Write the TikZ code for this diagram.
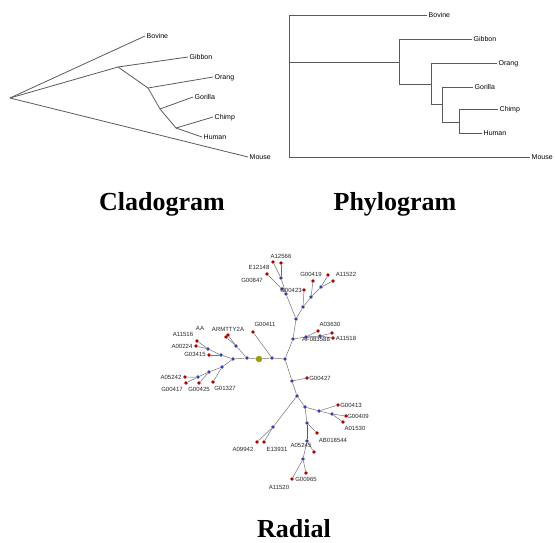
\documentclass[tikz,border=0pt]{standalone}
\usepackage{fontspec}
\setmainfont{Liberation Serif}
\newfontfamily\tagfont{Liberation Sans}
\usetikzlibrary{positioning}
\definecolor{treegray}{HTML}{5A5A5A}
\definecolor{leafred}{HTML}{B00000}
\definecolor{knotblue}{HTML}{3C3CA8}
\definecolor{hubolive}{HTML}{9C9C18}

\begin{document}
\begin{tikzpicture}[x=1pt, y=-1pt,
  branch/.style={draw=treegray, line width=0.8pt},
  twig/.style={draw=treegray!85, line width=0.5pt},
  taxon/.style={anchor=west, inner sep=1.5pt, font=\tagfont\fontsize{7}{7}\selectfont, text height=5pt, text depth=0pt},
  tag/.style={inner sep=0pt, font=\tagfont\fontsize{6}{6}\selectfont, text=black!85, text height=4.3pt, text depth=0pt},
  knot/.style={circle, fill=knotblue, inner sep=0pt, minimum size=3.6pt},
  leaf/.style={circle, fill=leafred, inner sep=0pt, minimum size=3.8pt},
  hubdot/.style={circle, fill=hubolive, inner sep=0pt, minimum size=6.5pt},
  caption/.style={anchor=base, inner sep=0pt, font=\bfseries\fontsize{26}{26}\selectfont}]
  \useasboundingbox (0,0) rectangle (555,542);

  % cladogram
  \begin{scope}
    \coordinate (C-root) at (10,98);
    \coordinate (C-1) at (118,67);
    \coordinate (C-2) at (148,88);
    \coordinate (C-3) at (160,109);
    \coordinate (C-4) at (176,128);
    \node[taxon] (C-bovine) at (145,36) {Bovine};
    \node[taxon] (C-gibbon) at (188,57) {Gibbon};
    \node[taxon] (C-orang) at (213,77) {Orang};
    \node[taxon] (C-gorilla) at (193,97) {Gorilla};
    \node[taxon] (C-chimp) at (213,117) {Chimp};
    \node[taxon] (C-human) at (202,137) {Human};
    \node[taxon] (C-mouse) at (248,157) {Mouse};
    \draw[branch] (C-root) -- (C-bovine.west);
    \draw[branch] (C-root) -- (C-mouse.west);
    \draw[branch] (C-root) -- (C-1) -- (C-gibbon.west);
    \draw[branch] (C-1) -- (C-2) -- (C-orang.west);
    \draw[branch] (C-2) -- (C-3) -- (C-gorilla.west);
    \draw[branch] (C-3) -- (C-4) -- (C-chimp.west);
    \draw[branch] (C-4) -- (C-human.west);
  \end{scope}

  % phylogram
  \begin{scope}
    \coordinate (P-root) at (289,62);
    \coordinate (P-1) at (399,62);
    \coordinate (P-2) at (431,84);
    \coordinate (P-3) at (442,104);
    \coordinate (P-4) at (459,122);
    \node[taxon] (P-bovine) at (427,15) {Bovine};
    \node[taxon] (P-gibbon) at (472,39) {Gibbon};
    \node[taxon] (P-orang) at (497,63) {Orang};
    \node[taxon] (P-gorilla) at (473,87) {Gorilla};
    \node[taxon] (P-chimp) at (498,109) {Chimp};
    \node[taxon] (P-human) at (482,133) {Human};
    \node[taxon] (P-mouse) at (530,157) {Mouse};
    \draw[branch] (P-root) |- (P-bovine.west);
    \draw[branch] (P-root) |- (P-mouse.west);
    \draw[branch] (P-root) -- (P-1) |- (P-gibbon.west);
    \draw[branch] (P-1) |- (P-2) |- (P-orang.west);
    \draw[branch] (P-2) |- (P-3) |- (P-gorilla.west);
    \draw[branch] (P-3) |- (P-4) |- (P-chimp.west);
    \draw[branch] (P-4) |- (P-human.west);
  \end{scope}

  % radial tree
  \begin{scope}
    \node[hubdot] (hub) at (259,359) {};
    % upper right part
    \node[knot] (u1) at (272,358) {};  \node[leaf] (r411) at (253,332) {};
    \node[knot] (u2) at (285,359) {};
    \node[knot] (u3) at (293,339) {};
    \node[knot] (u4) at (306,337) {};  \node[leaf] (r3630) at (318,331) {};
    \node[knot] (u5) at (320,336) {};  \node[leaf] (r1518a) at (332,333) {};  \node[leaf] (r1518b) at (333,338) {};
    \node[knot] (u6) at (296,319) {};
    \node[knot] (u7) at (286,294) {};
    \node[knot] (u8) at (282,289) {};  \node[leaf] (r847) at (267,274) {};
    \node[knot] (u9) at (281,278) {};  \node[leaf] (r2566a) at (273,262) {};  \node[leaf] (r2566b) at (281,263) {};
    \node[knot] (u10) at (303,307) {}; \node[leaf] (r423) at (304,290) {};
    \node[knot] (u11) at (311,297) {}; \node[leaf] (r419) at (313,281) {};
    \node[knot] (u12) at (321,287) {}; \node[leaf] (r1522a) at (328,275) {};  \node[leaf] (r1522b) at (333,281) {};
    % lower part
    \node[knot] (d1) at (292,381) {};  \node[leaf] (r427) at (307,378) {};
    \node[knot] (d2) at (297,396) {};
    \node[knot] (d3) at (273,427) {};  \node[leaf] (r9942) at (257,442) {};  \node[leaf] (r3931) at (264,442) {};
    \node[knot] (d4) at (305,407) {};
    \node[knot] (d5) at (319,411) {};  \node[leaf] (r413) at (338,405) {};
    \node[knot] (d6) at (332,414) {};  \node[leaf] (r409) at (346,416) {};  \node[leaf] (r1530) at (343,422) {};
    \node[knot] (d7) at (307,423) {};  \node[leaf] (r544) at (317,433) {};
    \node[knot] (d8) at (307,441) {};  \node[leaf] (r5245) at (314,452) {};
    \node[knot] (d9) at (303,459) {};  \node[leaf] (r1520) at (306,473) {};  \node[leaf] (r965) at (292,479) {};
    % left part
    \node[knot] (w1) at (247,358) {};
    \node[knot] (w2) at (236,346) {};  \node[leaf] (rarmt) at (226,337) {};  \node[leaf] (raa) at (228,335) {};
    \node[knot] (w3) at (233,359) {};
    \node[knot] (w4) at (221,355) {};  \node[leaf] (r3415) at (209,355) {};
    \node[knot] (w5) at (208,349) {};  \node[leaf] (r1516) at (197,341) {};  \node[leaf] (r0224) at (196,346) {};
    \node[knot] (w6) at (222,367) {};  \node[leaf] (r1327) at (213,382) {};
    \node[knot] (w7) at (209,372) {};  \node[leaf] (r425) at (199,383) {};
    \node[knot] (w8) at (198,377) {};  \node[leaf] (r5242) at (185,377) {};  \node[leaf] (r417) at (186,383) {};

    \draw[twig] (hub) -- (u1) -- (u2) -- (u3) -- (u6) -- (u7) -- (u9);
    \draw[twig] (u1) -- (r411);
    \draw[twig] (u3) -- (u4) -- (u5) -- (r1518a);
    \draw[twig] (u4) -- (r3630);  \draw[twig] (u5) -- (r1518b);
    \draw[twig] (u7) -- (u8) -- (r847);
    \draw[twig] (u9) -- (r2566a);  \draw[twig] (u9) -- (r2566b);
    \draw[twig] (u6) -- (u10) -- (u11) -- (u12) -- (r1522a);
    \draw[twig] (u10) -- (r423);  \draw[twig] (u11) -- (r419);  \draw[twig] (u12) -- (r1522b);
    \draw[twig] (u2) -- (d1) -- (d2) -- (d4) -- (d5) -- (d6) -- (r409);
    \draw[twig] (d1) -- (r427);
    \draw[twig] (d2) -- (d3) -- (r9942);  \draw[twig] (d3) -- (r3931);
    \draw[twig] (d5) -- (r413);  \draw[twig] (d6) -- (r1530);
    \draw[twig] (d4) -- (d7) -- (r544);
    \draw[branch] (d7) -- (d8);
    \draw[twig] (d8) -- (r5245);
    \draw[twig] (d8) -- (d9) -- (r1520);  \draw[twig] (d9) -- (r965);
    \draw[twig] (hub) -- (w1) -- (w2) -- (rarmt);  \draw[twig] (w2) -- (raa);
    \draw[twig] (w1) -- (w3) -- (w4) -- (w5) -- (r1516);
    \draw[twig] (w4) -- (r3415);  \draw[twig] (w5) -- (r0224);
    \draw[twig] (w3) -- (w6) -- (w7) -- (w8) -- (r5242);
    \draw[twig] (w6) -- (r1327);  \draw[twig] (w7) -- (r425);  \draw[twig] (w8) -- (r417);

    \node[tag] (t411) at (265,324) {G00411};
    \node[tag] (taa) at (200,328) {AA};
    \node[tag] (tarmt) at (228,329) {ARMTTY2A};
    \node[tag] (t1516) at (183,334) {A11516};
    \node[tag] (t0224) at (182,346) {A00224};
    \node[tag] (t3415) at (195,354) {G03415};
    \node[tag] (t5242) at (171,377) {A05242};
    \node[tag] (t417) at (172,389) {G00417};
    \node[tag] (t425) at (199,389) {G00425};
    \node[tag] (t1327) at (225,388) {G01327};
    \node[tag] (t2566) at (281,256) {A12566};
    \node[tag] (t2148) at (259,267) {E12148};
    \node[tag] (t847) at (252,280) {G00847};
    \node[tag] (t423) at (291,290) {G00423};
    \node[tag] (t419) at (311,274) {G00419};
    \node[tag] (t1522) at (346,274) {A11522};
    \node[tag] (t3630) at (330,324) {A03630};
    \node[tag] (t3588) at (316,339) {AF083588};
    \node[tag] (t1518) at (346,338) {A11518};
    \node[tag] (t427) at (320,378) {G00427};
    \node[tag] (t413) at (351,405) {G00413};
    \node[tag] (t409) at (358,416) {G00409};
    \node[tag] (t1530) at (355,428) {A01530};
    \node[tag] (t544) at (333,440) {AB018544};
    \node[tag] (t5245) at (301,445) {A05245};
    \node[tag] (t9942) at (243,449) {A09942};
    \node[tag] (t3931) at (277,449) {E13931};
    \node[tag] (t965) at (306,479) {G00965};
    \node[tag] (t1520) at (279,487) {A11520};
  \end{scope}

  \node[caption] (clado) at (162,210) {Cladogram};
  \node[caption] (phylo) at (395,210) {Phylogram};
  \node[caption] (radial) at (294,537) {Radial};
\end{tikzpicture}
\end{document}
